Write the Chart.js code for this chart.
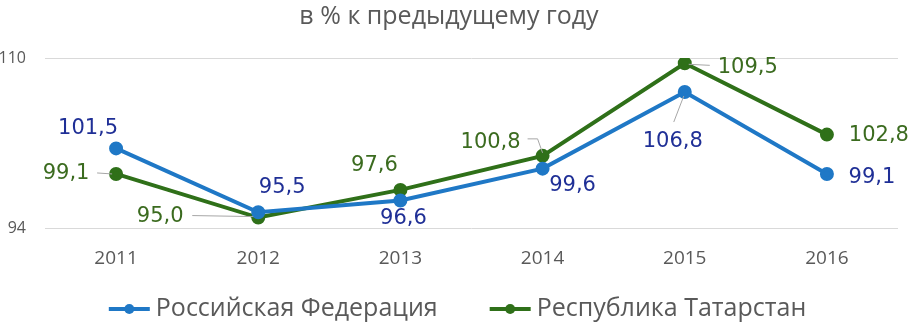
<!DOCTYPE html>
<html>
<head>
<meta charset="utf-8">
<script src="https://cdn.jsdelivr.net/npm/chart.js@4"></script>
<style>
  html, body { margin: 0; padding: 0; background: #fff; }
  #wrap { width: 909px; height: 326px; }
</style>
</head>
<body>
<div id="wrap"><canvas id="chart" width="909" height="326"></canvas></div>
<script>
// Data
const years = ['2011', '2012', '2013', '2014', '2015', '2016'];
const russia = [101.5, 95.5, 96.6, 99.6, 106.8, 99.1];
const tatarstan = [99.1, 95.0, 97.6, 100.8, 109.5, 102.8];
const yTicks = [94, 110];

const blue = '#1f78c6';
const green = '#2f7019';
const blueText = '#1f2f96';
const greenText = '#3b6b1f';
const grayText = '#595959';

// label placement (offset of label centre from its point) and leader lines
const labelPlace = {
    0: {
        offsets: [[-28, -20], [24, -25], [3, 18], [30, 17], [-12, 50], [45, 4]],
        leaders: [null, null, null, null, [[-11, 30], [-1, 4]], null]
    },
    1: {
        offsets: [[-50, 0], [-98, -1], [-26, -24], [-52, -13], [63, 4], [52, 1]],
        leaders: [[[-19, -1], [-4, 0]], [[-66, -2], [-5, -1]], null,
                  [[-15, -17], [-5, -17], [0, -3]], [[25, 2], [4, 1]], null]
    }
};

const dataLabels = {
    id: 'dataLabels',
    afterDatasetsDraw(chart) {
        const ctx = chart.ctx;
        ctx.save();
        chart.data.datasets.forEach((ds, i) => {
            const meta = chart.getDatasetMeta(i);
            const place = labelPlace[i];
            meta.data.forEach((pt, j) => {
                const lead = place.leaders[j];
                if (lead) {
                    ctx.strokeStyle = '#a6a6a6';
                    ctx.lineWidth = 1;
                    ctx.beginPath();
                    lead.forEach((p, k) => {
                        if (k === 0) ctx.moveTo(pt.x + p[0], pt.y + p[1]);
                        else ctx.lineTo(pt.x + p[0], pt.y + p[1]);
                    });
                    ctx.stroke();
                }
                const off = place.offsets[j];
                ctx.fillStyle = ds.labelColor;
                ctx.font = '21px "DejaVu Sans"';
                ctx.textAlign = 'center';
                ctx.textBaseline = 'middle';
                ctx.fillText(ds.data[j].toFixed(1).replace('.', ','), pt.x + off[0], pt.y + off[1]);
            });
        });
        ctx.restore();
    }
};

// legend: line with a dot, drawn under the axis
const lineLegend = {
    id: 'lineLegend',
    afterDraw(chart) {
        const ctx = chart.ctx;
        const y = 309;
        const markW = 41;
        const gap = 52;
        ctx.save();
        ctx.font = '25px "Open Sans"';
        ctx.textBaseline = 'middle';
        ctx.textAlign = 'left';
        const items = chart.data.datasets.map(ds => ({
            color: ds.borderColor,
            text: ds.label,
            w: markW + 6 + ctx.measureText(ds.label).width
        }));
        const total = items.reduce((s, it) => s + it.w, 0) + gap * (items.length - 1);
        let x = (chart.width - total) / 2 + 3;
        items.forEach(it => {
            ctx.strokeStyle = it.color;
            ctx.lineWidth = 4;
            ctx.beginPath();
            ctx.moveTo(x, y);
            ctx.lineTo(x + markW, y);
            ctx.stroke();
            ctx.fillStyle = it.color;
            ctx.beginPath();
            ctx.arc(x + markW / 2, y, 5, 0, Math.PI * 2);
            ctx.fill();
            ctx.fillStyle = grayText;
            ctx.fillText(it.text, x + markW + 6, y);
            x += it.w + gap;
        });
        ctx.restore();
    }
};

new Chart(document.getElementById('chart'), {
    type: 'line',
    data: {
        labels: years,
        datasets: [{
            label: 'Российская Федерация',
            data: russia,
            borderColor: blue,
            backgroundColor: blue,
            labelColor: blueText,
            borderWidth: 4,
            pointRadius: 5,
            pointBackgroundColor: blue,
            tension: 0
        }, {
            label: 'Республика Татарстан',
            data: tatarstan,
            borderColor: green,
            backgroundColor: green,
            labelColor: greenText,
            borderWidth: 4,
            pointRadius: 5,
            pointBackgroundColor: green,
            tension: 0
        }]
    },
    options: {
        responsive: false,
        animation: false,
        layout: { padding: { left: 0, right: 11, top: 0, bottom: 45 } },
        plugins: {
            title: {
                display: true,
                text: 'в % к предыдущему году',
                color: grayText,
                font: { family: 'Open Sans', size: 25, weight: 'normal' },
                padding: { top: 2, bottom: 26 }
            },
            legend: { display: false },
            tooltip: { enabled: false }
        },
        scales: {
            x: {
                offset: true,
                grid: { display: false },
                border: { display: false },
                ticks: {
                    color: grayText,
                    font: { family: 'Open Sans', size: 19 },
                    padding: 11
                }
            },
            y: {
                min: 94,
                max: 110,
                afterBuildTicks(scale) {
                    scale.ticks = yTicks.map(v => ({ value: v }));
                },
                afterFit(scale) {
                    scale.width = 45;
                },
                grid: { color: '#d9d9d9', lineWidth: 1, drawTicks: false },
                border: { display: false },
                ticks: {
                    color: grayText,
                    font: { family: 'Open Sans', size: 16 },
                    padding: 19
                }
            }
        }
    },
    plugins: [dataLabels, lineLegend]
});
</script>
</body>
</html>
